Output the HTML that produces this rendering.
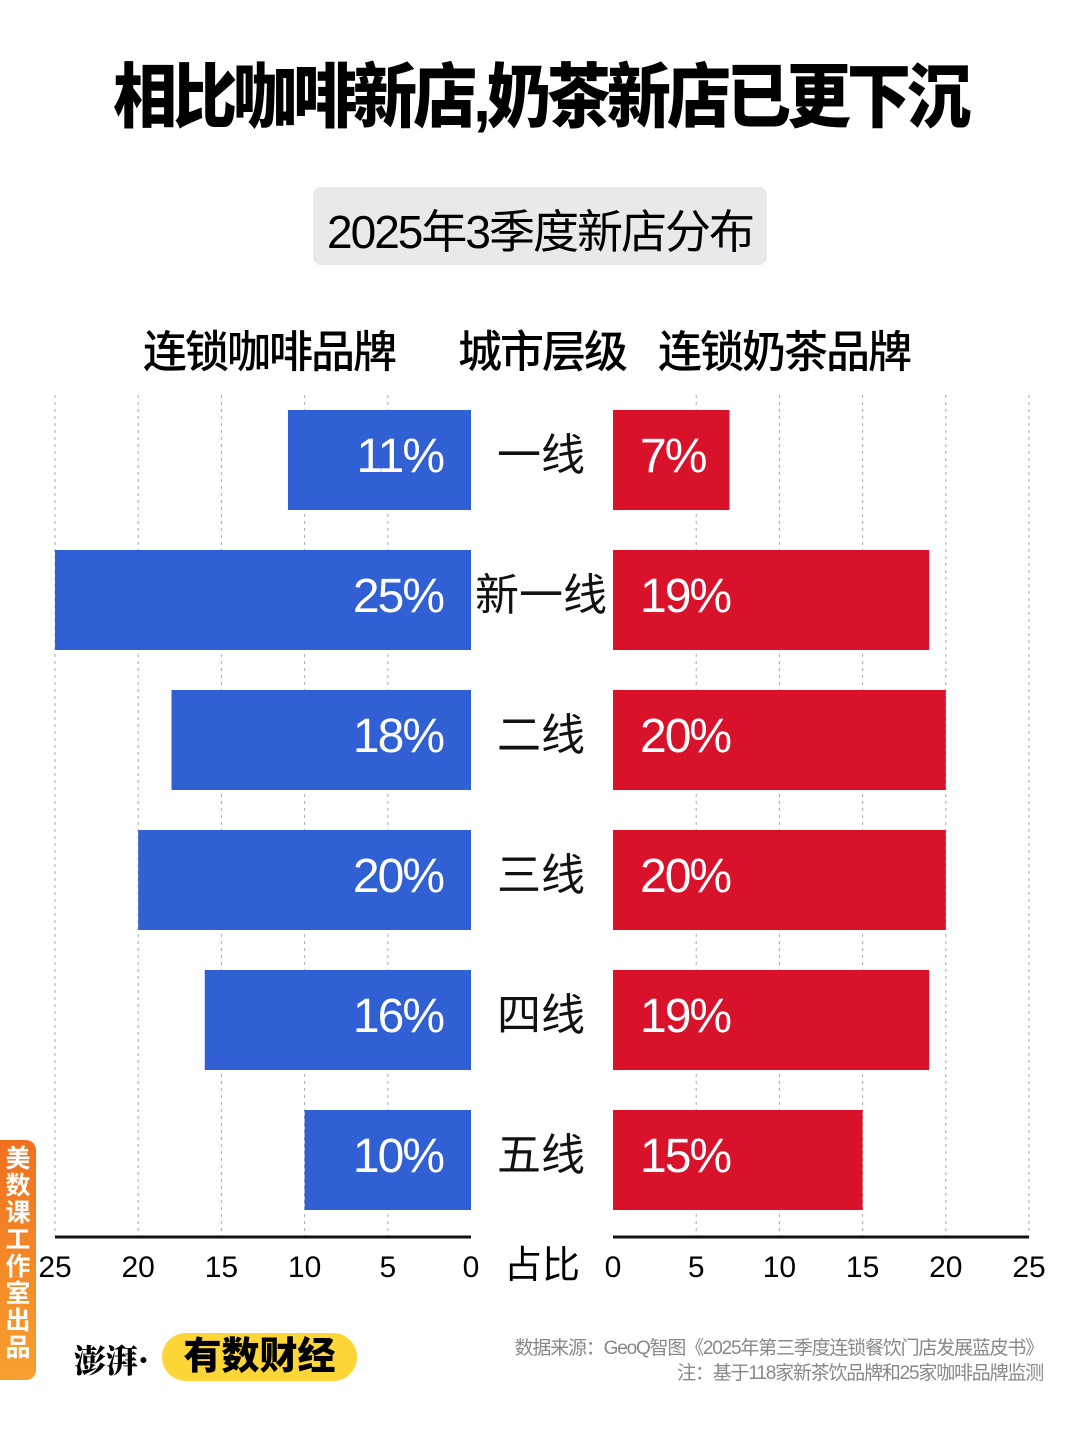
<!DOCTYPE html>
<html><head><meta charset="utf-8"><style>
body{margin:0;width:1080px;height:1443px;background:#fff;position:relative;overflow:hidden;font-family:"Liberation Sans","Noto Sans CJK SC",sans-serif;}
.a{position:absolute;white-space:nowrap;}
</style></head><body>
<div class="a" style="left:0;width:1080px;text-align:center;top:46px;font-size:64px;font-weight:900;letter-spacing:-4px;transform:scaleY(1.1);">相比咖啡新店,奶茶新店已更下沉</div>
<div class="a" style="left:313px;top:187px;width:454px;height:78px;background:#e9e9eb;border-radius:8px;"></div>
<div class="a" style="left:313px;width:454px;text-align:center;top:196px;font-size:46px;letter-spacing:-2px;">2025年3季度新店分布</div>
<div class="a" style="left:143px;top:316px;font-size:44px;font-weight:500;letter-spacing:-2px;">连锁咖啡品牌</div>
<div class="a" style="left:458px;top:316px;font-size:44px;font-weight:500;letter-spacing:-2px;">城市层级</div>
<div class="a" style="left:658px;top:316px;font-size:44px;font-weight:500;letter-spacing:-2px;">连锁奶茶品牌</div>
<svg id="c" class="a" style="left:0;top:0" width="1080" height="1443"></svg>
<div class="a" style="left:0;top:1140px;width:36px;height:240px;background:linear-gradient(#f07020,#f7a030);border-radius:0 10px 10px 0;color:#fff;font-size:25px;font-weight:bold;line-height:27px;text-align:center;white-space:normal;padding-top:6px;box-sizing:border-box;">美数课工作室出品</div>
<div class="a" style="left:74px;top:1336px;font-size:32px;font-family:'Noto Serif CJK SC',serif;font-weight:900;">澎湃·</div>
<div class="a" style="left:162px;top:1333px;width:195px;height:48px;background:#fbd636;border-radius:24px;font-size:38px;font-weight:900;text-align:center;line-height:48px;">有数财经</div>
<div class="a" style="right:37px;top:1336px;font-size:19px;color:#888;text-align:right;line-height:25px;letter-spacing:-1.2px;">数据来源：GeoQ智图《2025年第三季度连锁餐饮门店发展蓝皮书》<br>注：基于118家新茶饮品牌和25家咖啡品牌监测</div>
<script>
const tiers=["一线","新一线","二线","三线","四线","五线"];
const coffee=[11,25,18,20,16,10];
const tea=[7,19,20,20,19,15];
const ticks=[0,5,10,15,20,25];
const NS="http://www.w3.org/2000/svg",svg=document.getElementById('c');
const k=16.64,L0=471,R0=613;
const xl=v=>L0-v*k, xr=v=>R0+v*k;
function mk(t,a){const e=document.createElementNS(NS,t);for(const n in a)e.setAttribute(n,a[n]);svg.appendChild(e);return e;}
ticks.forEach(t=>{
 if(t>0){
 let g=mk('line',{x1:xl(t),x2:xl(t),y1:395,y2:1236,stroke:'#aaa','stroke-dasharray':'3,4','stroke-width':1});
 
 
 g=mk('line',{x1:xr(t),x2:xr(t),y1:395,y2:1236,stroke:'#aaa','stroke-dasharray':'3,4','stroke-width':1});
 
 }
 let a=mk('text',{x:xl(t),y:1277,'text-anchor':'middle','font-size':30});a.textContent=t;
 
 
 a=mk('text',{x:xr(t),y:1277,'text-anchor':'middle','font-size':30});a.textContent=t;
 
 
});
let ax=mk('line',{x1:xl(25),x2:L0,y1:1237,y2:1237,stroke:'#111','stroke-width':3});


ax=mk('line',{x1:R0,x2:xr(25),y1:1237,y2:1237,stroke:'#111','stroke-width':3});


let at=mk('text',{x:542,y:1278,'text-anchor':'middle','font-size':38});at.textContent='占比';


tiers.forEach((c,i)=>{
 const y=410+i*140;
 let b=mk('rect',{x:xl(coffee[i]),y:y,width:coffee[i]*k,height:100,fill:'#3060d4'});
 
 
 b=mk('rect',{x:R0,y:y,width:tea[i]*k,height:100,fill:'#d9122b'});
 
 
 let t=mk('text',{x:443,y:y+62,'text-anchor':'end','font-size':48,fill:'#fff','letter-spacing':-2});t.textContent=coffee[i]+'%';
 
 
 t=mk('text',{x:640,y:y+62,'font-size':48,fill:'#fff','letter-spacing':-2});t.textContent=tea[i]+'%';
 
 
 t=mk('text',{x:541,y:y+60,'text-anchor':'middle','font-size':44,fill:'#111'});t.textContent=c;
 
 
});
</script>
</body></html>
